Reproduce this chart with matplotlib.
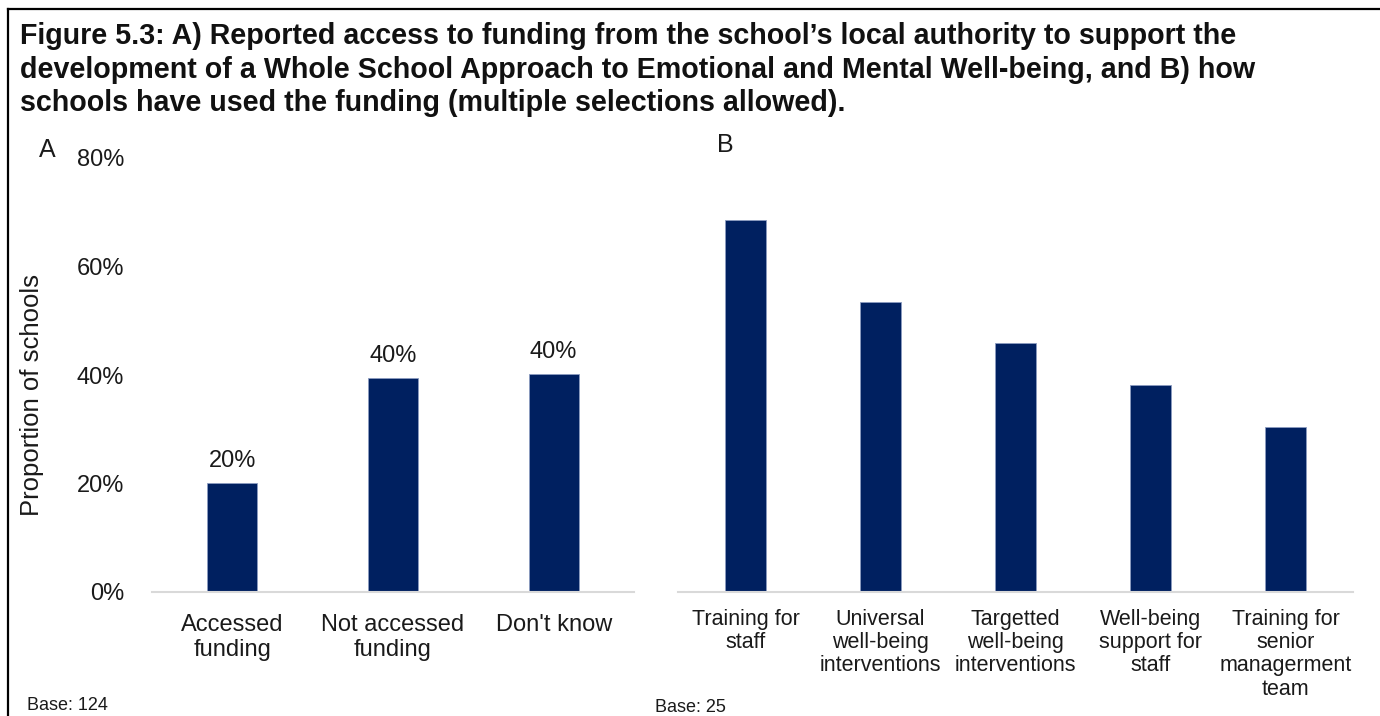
import matplotlib.pyplot as plt
from matplotlib.lines import Line2D

plt.rcParams['font.family'] = ['Liberation Sans', 'DejaVu Sans']

# Panel A data
accessCats = ['Accessed\nfunding', 'Not accessed\nfunding', "Don't know"]
accessVals = [20.1, 39.4, 40.2]

# Panel B data
useCats = ['Training for\nstaff', 'Universal\nwell-being\ninterventions',
           'Targetted\nwell-being\ninterventions', 'Well-being\nsupport for\nstaff',
           'Training for\nsenior\nmanagerment\nteam']
useVals = [68.6, 53.5, 45.9, 38.2, 30.4]

yTicks = [0, 20, 40, 60, 80]
barColor = '#002060'
axisColor = '#D9D9D9'
txtColor = '#1a1a1a'

W, H = 1380, 716
fig = plt.figure(figsize=(W / 100, H / 100), dpi=100)

def box(x0, y0, x1, y1):
    # pixel coords (top-left origin) -> figure fraction rect
    return [x0 / W, 1 - y1 / H, (x1 - x0) / W, (y1 - y0) / H]

axA = fig.add_axes(box(152, 158, 634, 592))
axB = fig.add_axes(box(678, 158, 1353, 592))

for ax, cats, vals in [(axA, accessCats, accessVals), (axB, useCats, useVals)]:
    x = range(len(cats))
    ax.bar(x, vals, width=0.31, color=barColor, edgecolor='#8C9CC0', linewidth=0.6)
    ax.set_xlim(-0.5, len(cats) - 0.5)
    ax.set_ylim(0, 80)
    ax.set_xticks(list(x))
    ax.tick_params(axis='x', length=0)
    for s in ['top', 'right', 'left']:
        ax.spines[s].set_visible(False)
    ax.spines['bottom'].set_color(axisColor)
    ax.spines['bottom'].set_linewidth(1.5)

axA.set_xticklabels(accessCats, fontsize=17, color=txtColor, linespacing=1.15)
axA.tick_params(axis='x', pad=16)
axB.set_xticklabels(useCats, fontsize=15.5, color=txtColor, linespacing=1.15)
axB.tick_params(axis='x', pad=12)

axA.set_yticks(yTicks)
axA.set_yticklabels([f'{t}%' for t in yTicks], fontsize=17, color=txtColor)
axA.tick_params(axis='y', length=0, pad=20)
axB.set_yticks([])

fig.text(32 / W, 1 - 395 / H, 'Proportion of schools', rotation=90, ha='center',
         va='center', fontsize=18.5, color=txtColor)

for i, v in enumerate(accessVals):
    axA.text(i, v + 2.0, f'{round(v / 10) * 10:.0f}%', ha='center', va='bottom',
             fontsize=17, color=txtColor)

title = ("Figure 5.3: A) Reported access to funding from the school\u2019s local authority to support the\n"
         "development of a Whole School Approach to Emotional and Mental Well-being, and B) how\n"
         "schools have used the funding (multiple selections allowed).")
fig.text(20 / W, 1 - 22 / H, title, ha='left', va='top', fontsize=20.6,
         fontweight='bold', color='#111111', linespacing=1.25)

fig.text(47 / W, 1 - 150 / H, 'A', ha='center', va='center', fontsize=18, color=txtColor)
fig.text(725 / W, 1 - 145 / H, 'B', ha='center', va='center', fontsize=18, color=txtColor)
fig.text(27 / W, 1 - 705 / H, 'Base: 124', ha='left', va='center', fontsize=13, color=txtColor)
fig.text(655 / W, 1 - 707 / H, 'Base: 25', ha='left', va='center', fontsize=13, color=txtColor)

# frame lines (top and left)
fig.add_artist(Line2D([8 / W, 1], [1 - 9 / H, 1 - 9 / H], color='black', linewidth=1.6))
fig.add_artist(Line2D([8 / W, 8 / W], [0, 1 - 9 / H], color='black', linewidth=1.6))

fig.savefig('out.png', dpi=100)
